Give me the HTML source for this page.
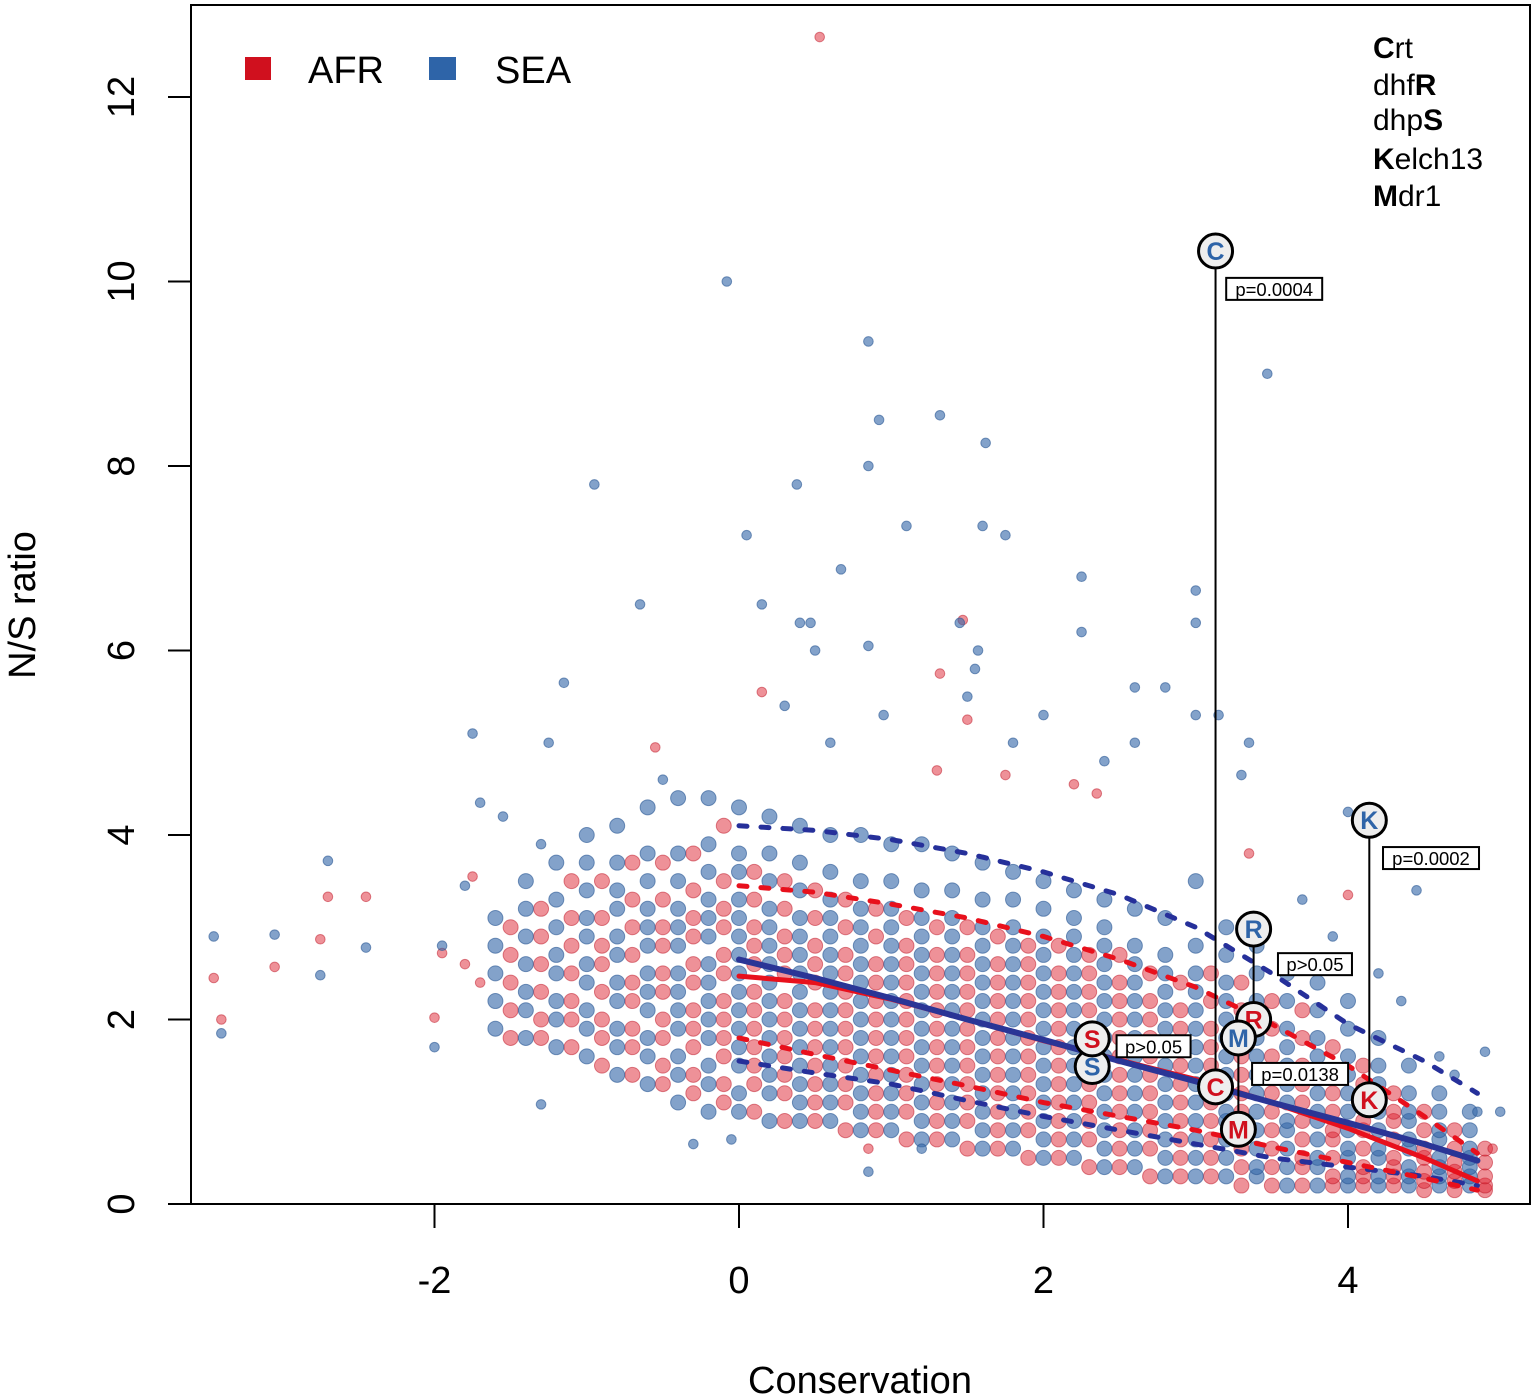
<!DOCTYPE html>
<html><head><meta charset="utf-8"><style>
body{margin:0;background:#fff;}
svg{display:block;font-family:"Liberation Sans",Arial,sans-serif;}
</style></head><body>
<svg id="chart" width="1535" height="1399" viewBox="0 0 1535 1399">
<g id="pts"></g>
<g id="lines"></g>
<g id="annot"></g>
<rect x="191" y="5" width="1339" height="1199" fill="none" stroke="#000" stroke-width="2"/>
<g id="axes"></g>
<text x="22" y="605" font-size="38" text-anchor="middle" transform="rotate(-90 22 605)" dy="13">N/S ratio</text>
<text x="860" y="1393" font-size="38" text-anchor="middle">Conservation</text>
<g>
<rect x="245" y="57" width="26" height="23" fill="#d0101e"/>
<text x="308" y="83" font-size="38">AFR</text>
<rect x="429" y="57" width="27" height="23" fill="#2e64a8"/>
<text x="495" y="83" font-size="38">SEA</text>
</g>
<g font-size="30">
<text x="1373" y="58"><tspan font-weight="bold">C</tspan>rt</text>
<text x="1373" y="95">dhf<tspan font-weight="bold">R</tspan></text>
<text x="1373" y="130">dhp<tspan font-weight="bold">S</tspan></text>
<text x="1373" y="169"><tspan font-weight="bold">K</tspan>elch13</text>
<text x="1373" y="206"><tspan font-weight="bold">M</tspan>dr1</text>
</g>
</svg>
<script>
const xTicks=[-2,0,2,4];
const yTicks=[0,2,4,6,8,10,12];
const seaOutliers=[[-3.45,2.9],[-3.05,2.92],[-2.7,3.72],[-2.45,2.78],[-2.75,2.48],[-3.4,1.85],[-2.0,1.7],[-1.95,2.8],[-1.75,5.1],[-1.7,4.35],[-1.3,1.08],[-0.95,7.8],[-0.65,6.5],[-0.08,10.0],[0.05,7.25],[0.15,6.5],[0.38,7.8],[0.85,9.35],[0.92,8.5],[0.85,8.0],[1.32,8.55],[1.62,8.25],[1.1,7.35],[1.6,7.35],[1.75,7.25],[0.67,6.88],[0.4,6.3],[0.47,6.3],[1.45,6.3],[0.5,6.0],[0.85,6.05],[1.57,6.0],[2.25,6.8],[2.25,6.2],[3.0,6.65],[3.0,6.3],[3.47,9.0],[1.55,5.8],[1.5,5.5],[0.95,5.3],[2.6,5.6],[2.8,5.6],[3.0,5.3],[3.15,5.3],[-1.15,5.65],[-1.25,5.0],[2.0,5.3],[3.35,5.0],[2.6,5.0],[3.3,4.65],[4.45,3.4],[4.0,4.25],[4.35,2.2],[4.6,1.6],[4.9,1.65],[5.0,1.0],[-0.05,0.7],[0.85,0.35],[1.2,0.6],[-0.3,0.65],[-1.55,4.2],[-1.8,3.45],[-1.3,3.9],[0.6,5.0],[1.8,5.0],[2.4,4.8],[0.3,5.4],[-0.5,4.6],[3.7,3.3],[3.9,2.9],[4.2,2.5],[4.7,1.4],[4.85,1.0]];
const seaCols=[
[-1.6,[1.9,2.2,2.5,2.8,3.1]],
[-1.4,[1.8,2.1,2.3,2.6,2.9,3.2,3.5]],
[-1.2,[1.7,2.0,2.2,2.5,2.7,3.0,3.3,3.7]],
[-1.0,[1.6,1.9,2.1,2.4,2.6,2.9,3.1,3.4,3.7,4.0]],
[-0.8,[1.4,1.7,1.9,2.2,2.4,2.7,2.9,3.2,3.4,3.7,4.1]],
[-0.6,[1.3,1.6,1.8,2.1,2.3,2.5,2.8,3.0,3.2,3.5,3.8,4.3]],
[-0.4,[1.1,1.4,1.6,1.9,2.1,2.3,2.5,2.8,3.0,3.2,3.5,3.8,4.4]],
[-0.2,[1.0,1.3,1.5,1.8,2.0,2.2,2.4,2.6,2.9,3.1,3.3,3.6,3.9,4.4]],
[0.0,[1.0,1.2,1.5,1.7,1.9,2.1,2.3,2.5,2.7,2.9,3.1,3.3,3.6,3.8,4.3]],
[0.2,[0.9,1.2,1.4,1.6,1.8,2.0,2.2,2.4,2.6,2.8,3.0,3.2,3.5,3.8,4.2]],
[0.4,[0.9,1.1,1.3,1.5,1.7,1.9,2.1,2.3,2.5,2.7,2.9,3.1,3.4,3.7,4.1]],
[0.6,[0.9,1.1,1.3,1.5,1.7,1.9,2.1,2.3,2.5,2.7,2.9,3.1,3.3,3.6,4.0]],
[0.8,[0.8,1.0,1.2,1.4,1.6,1.8,2.0,2.2,2.4,2.6,2.8,3.0,3.2,3.5,4.0]],
[1.0,[0.8,1.0,1.2,1.4,1.6,1.8,2.0,2.2,2.4,2.6,2.8,3.0,3.2,3.5,3.9]],
[1.2,[0.7,0.9,1.1,1.3,1.5,1.7,1.9,2.1,2.3,2.5,2.7,2.9,3.1,3.4,3.9]],
[1.4,[0.7,0.9,1.1,1.3,1.5,1.7,1.9,2.1,2.3,2.5,2.7,2.9,3.1,3.4,3.8]],
[1.6,[0.6,0.8,1.0,1.2,1.4,1.6,1.8,2.0,2.2,2.4,2.6,2.8,3.0,3.3,3.7]],
[1.8,[0.6,0.8,1.0,1.2,1.4,1.6,1.8,2.0,2.2,2.4,2.6,2.8,3.0,3.3,3.6]],
[2.0,[0.5,0.7,0.9,1.1,1.3,1.5,1.7,1.9,2.1,2.3,2.5,2.7,2.9,3.2,3.5]],
[2.2,[0.5,0.7,0.9,1.1,1.3,1.5,1.7,1.9,2.1,2.3,2.5,2.7,2.9,3.1,3.4]],
[2.4,[0.4,0.6,0.8,1.0,1.2,1.4,1.6,1.8,2.0,2.2,2.4,2.6,2.8,3.0,3.3]],
[2.6,[0.4,0.6,0.8,1.0,1.2,1.4,1.6,1.8,2.0,2.2,2.4,2.6,2.8,3.2]],
[2.8,[0.3,0.5,0.7,0.9,1.1,1.3,1.5,1.7,1.9,2.1,2.3,2.5,2.7,3.1]],
[3.0,[0.3,0.5,0.7,0.9,1.1,1.3,1.5,1.7,1.9,2.1,2.3,2.5,2.8,3.5]],
[3.2,[0.3,0.5,0.7,0.9,1.0,1.2,1.4,1.6,1.8,2.0,2.2,2.4,2.7,3.0]],
[3.4,[0.3,0.4,0.6,0.8,1.0,1.2,1.4,1.6,1.8,2.0,2.2,2.5,2.8]],
[3.6,[0.2,0.4,0.6,0.8,0.9,1.1,1.3,1.5,1.7,1.9,2.2,2.5]],
[3.8,[0.2,0.4,0.5,0.7,0.9,1.0,1.2,1.4,1.6,1.8,2.1,2.4]],
[4.0,[0.2,0.3,0.5,0.6,0.8,1.0,1.2,1.4,1.6,1.9,2.2]],
[4.2,[0.2,0.3,0.5,0.6,0.8,1.0,1.1,1.3,1.5,1.8]],
[4.4,[0.2,0.3,0.4,0.6,0.7,0.9,1.0,1.2,1.5]],
[4.6,[0.2,0.3,0.4,0.5,0.7,0.8,1.0,1.2]],
[4.8,[0.2,0.3,0.4,0.5,0.6,0.8,1.0]]
];
const afrOutliers=[[-3.45,2.45],[-3.4,2.0],[-3.05,2.57],[-2.75,2.87],[-2.7,3.33],[-2.45,3.33],[-2.0,2.02],[-1.95,2.72],[-1.75,3.55],[0.53,12.65],[1.47,6.33],[1.32,5.75],[0.15,5.55],[1.5,5.25],[1.75,4.65],[2.2,4.55],[3.35,3.8],[4.0,3.35],[0.85,0.6],[-0.55,4.95],[1.3,4.7],[2.35,4.45],[-1.7,2.4],[-1.8,2.6],[4.95,0.6]];
const afrCols=[
[-1.5,[1.8,2.1,2.4,2.7,3.0]],
[-1.3,[1.8,2.0,2.3,2.6,2.9,3.2]],
[-1.1,[1.7,2.0,2.2,2.5,2.8,3.1,3.5]],
[-0.9,[1.5,1.8,2.0,2.3,2.6,2.8,3.1,3.5]],
[-0.7,[1.4,1.7,1.9,2.2,2.4,2.7,3.0,3.3,3.7]],
[-0.5,[1.3,1.5,1.8,2.0,2.3,2.5,2.8,3.0,3.3,3.7]],
[-0.3,[1.2,1.4,1.7,1.9,2.1,2.4,2.6,2.9,3.1,3.4,3.8]],
[-0.1,[1.1,1.3,1.6,1.8,2.0,2.2,2.5,2.7,3.0,3.2,3.5,4.1]],
[0.1,[1.0,1.3,1.5,1.7,1.9,2.1,2.3,2.6,2.8,3.0,3.3,3.6]],
[0.3,[0.9,1.2,1.4,1.6,1.8,2.0,2.2,2.5,2.7,2.9,3.2,3.5]],
[0.5,[0.9,1.1,1.3,1.5,1.7,1.9,2.1,2.4,2.6,2.8,3.1,3.4]],
[0.7,[0.8,1.1,1.3,1.5,1.7,1.9,2.1,2.3,2.5,2.7,3.0,3.3]],
[0.9,[0.8,1.0,1.2,1.4,1.6,1.8,2.0,2.2,2.4,2.6,2.9,3.2]],
[1.1,[0.7,1.0,1.2,1.4,1.6,1.8,2.0,2.2,2.4,2.6,2.8,3.1]],
[1.3,[0.7,0.9,1.1,1.3,1.5,1.7,1.9,2.1,2.3,2.5,2.7,3.0]],
[1.5,[0.6,0.9,1.1,1.3,1.5,1.7,1.9,2.1,2.3,2.5,2.7,3.0]],
[1.7,[0.6,0.8,1.0,1.2,1.4,1.6,1.8,2.0,2.2,2.4,2.6,2.9]],
[1.9,[0.5,0.8,1.0,1.2,1.4,1.6,1.8,2.0,2.2,2.4,2.6,2.8]],
[2.1,[0.5,0.7,0.9,1.1,1.3,1.5,1.7,1.9,2.1,2.3,2.5,2.8]],
[2.3,[0.4,0.7,0.9,1.1,1.3,1.5,1.7,1.9,2.1,2.3,2.5,2.7]],
[2.5,[0.4,0.6,0.8,1.0,1.2,1.4,1.6,1.8,2.0,2.2,2.4,2.7]],
[2.7,[0.3,0.6,0.8,1.0,1.2,1.4,1.6,1.8,2.0,2.2,2.5]],
[2.9,[0.3,0.5,0.7,0.9,1.1,1.3,1.5,1.7,1.9,2.1,2.4]],
[3.1,[0.3,0.5,0.7,0.9,1.1,1.3,1.5,1.7,1.9,2.2,2.5]],
[3.3,[0.2,0.4,0.6,0.8,1.0,1.2,1.4,1.6,1.8,2.1,2.4]],
[3.5,[0.2,0.4,0.6,0.8,1.0,1.2,1.4,1.6,1.9,2.2]],
[3.7,[0.2,0.4,0.5,0.7,0.9,1.1,1.3,1.5,1.8,2.1]],
[3.9,[0.2,0.3,0.5,0.7,0.8,1.0,1.2,1.4,1.7]],
[4.1,[0.2,0.3,0.4,0.6,0.8,0.9,1.1,1.3,1.5]],
[4.3,[0.2,0.3,0.4,0.5,0.7,0.9,1.0,1.2]],
[4.5,[0.15,0.25,0.35,0.5,0.6,0.8,1.0]],
[4.7,[0.15,0.25,0.35,0.45,0.6,0.8]],
[4.9,[0.15,0.2,0.3,0.45,0.6]]
];
const trendX=[0,0.5,1,1.5,2,2.5,3,3.5,4,4.5,4.85];
const seaTrend=[2.65,2.45,2.23,2.0,1.78,1.55,1.33,1.1,0.88,0.65,0.47];
const afrTrend=[2.47,2.4,2.22,2.0,1.77,1.56,1.35,1.1,0.82,0.5,0.25];
const seaUpper=[4.1,4.05,3.95,3.8,3.6,3.35,3.0,2.5,1.95,1.55,1.2];
const seaLower=[1.55,1.42,1.3,1.12,0.95,0.8,0.65,0.5,0.4,0.3,0.2];
const afrUpper=[3.45,3.38,3.25,3.1,2.9,2.65,2.35,1.95,1.5,0.95,0.55];
const afrLower=[1.8,1.62,1.45,1.28,1.1,0.95,0.8,0.62,0.45,0.28,0.15];
const markerLabels=["C","K","R","M","S"];
const markerX=[3.13,4.14,3.38,3.28,2.32];
const markerSea=[10.33,4.16,2.98,1.8,1.49];
const markerAfr=[1.27,1.13,2.0,0.81,1.79];
const pLabels=["p=0.0004","p=0.0002","p>0.05","p=0.0138","p>0.05"];
const pBoxX=[3.20,4.23,3.54,3.37,2.48];
const pBoxY=[9.92,3.75,2.60,1.41,1.71];

const NS='http://www.w3.org/2000/svg';
const X=v=>739+v*152.25;
const Y=v=>1204-v*92.25;
function mk(tag,attrs,parent){const e=document.createElementNS(NS,tag);for(const k in attrs)e.setAttribute(k,attrs[k]);parent.appendChild(e);return e;}
const pts=document.getElementById('pts');
function dot(x,y,col,stroke,r,name){
  const c=mk('circle',{cx:X(x),cy:Y(y),r:r,fill:col,stroke:stroke,'stroke-width':1},pts);
  
  
}
const RED='rgba(222,35,50,0.5)',REDS='rgba(190,20,35,0.5)',BLU='rgba(55,105,170,0.62)',BLUS='rgba(45,90,150,0.62)';
afrCols.forEach(([x,ys])=>ys.forEach(y=>dot(x,y,RED,REDS,7.5,'afr-point')));
seaCols.forEach(([x,ys])=>ys.forEach(y=>dot(x,y,BLU,BLUS,7.5,'sea-point')));
afrOutliers.forEach(([x,y])=>dot(x,y,RED,REDS,4.8,'afr-point'));
seaOutliers.forEach(([x,y])=>dot(x,y,BLU,BLUS,4.8,'sea-point'));

const lines=document.getElementById('lines');
function line(ys,col,w,dash,name){
  const d=trendX.map((x,i)=>(i?'L':'M')+X(x)+','+Y(ys[i])).join(' ');
  const p=mk('path',{d:d,fill:'none',stroke:col,'stroke-width':w,'stroke-dasharray':dash||'none','stroke-linecap':'round'},lines);
  
  
}
line(seaUpper,'#26309a',5,'8,14','sea-upper-band');
line(seaLower,'#26309a',5,'8,14','sea-lower-band');
line(afrUpper,'#e8101c',5,'8,14','afr-upper-band');
line(afrLower,'#e8101c',5,'8,14','afr-lower-band');
line(afrTrend,'#e8101c',5,null,'afr-trend-line');
line(seaTrend,'#2a3596',6,null,'sea-trend-line');

const an=document.getElementById('annot');
markerLabels.forEach((lab,i)=>{
  const g=mk('g',{},an);
  
  
  mk('line',{x1:X(markerX[i]),x2:X(markerX[i]),y1:Y(markerSea[i]),y2:Y(markerAfr[i]),stroke:'#000','stroke-width':2},g);
  [[markerSea[i],'#2e64a8'],[markerAfr[i],'#d0101e']].forEach(([v,col])=>{
    mk('circle',{cx:X(markerX[i]),cy:Y(v),r:17,fill:'#eeeeee',stroke:'#000','stroke-width':3},g);
    const t=mk('text',{x:X(markerX[i]),y:Y(v)+9,'text-anchor':'middle','font-size':25,'font-weight':'bold',fill:col},g);
    t.textContent=lab;
  });
  const bx=X(pBoxX[i]),by=Y(pBoxY[i]);
  const w=pLabels[i].length*11+8;
  const r=mk('rect',{x:bx,y:by-11,width:w,height:22,fill:'#fff',stroke:'#000','stroke-width':2},g);
  
  
  const t=mk('text',{x:bx+w/2,y:by+7,'text-anchor':'middle','font-size':18.5},g);
  
  
  t.textContent=pLabels[i];
});

const ax=document.getElementById('axes');
mk('line',{x1:X(xTicks[0]),x2:X(xTicks[xTicks.length-1]),y1:1204,y2:1204,stroke:'#000','stroke-width':2},ax);
xTicks.forEach(v=>{
  mk('line',{x1:X(v),x2:X(v),y1:1204,y2:1228,stroke:'#000','stroke-width':2},ax);
  const t=mk('text',{x:X(v),y:1293,'text-anchor':'middle','font-size':38},ax);
  
  
  t.textContent=v<0?'-'+Math.abs(v):String(v);
});
yTicks.forEach(v=>{
  mk('line',{x1:168,x2:191,y1:Y(v),y2:Y(v),stroke:'#000','stroke-width':2},ax);
  const t=mk('text',{x:134,y:Y(v),'text-anchor':'middle','font-size':38,transform:'rotate(-90 134 '+Y(v)+')'},ax);
  
  
  t.textContent=String(v);
});
</script>
</body></html>
